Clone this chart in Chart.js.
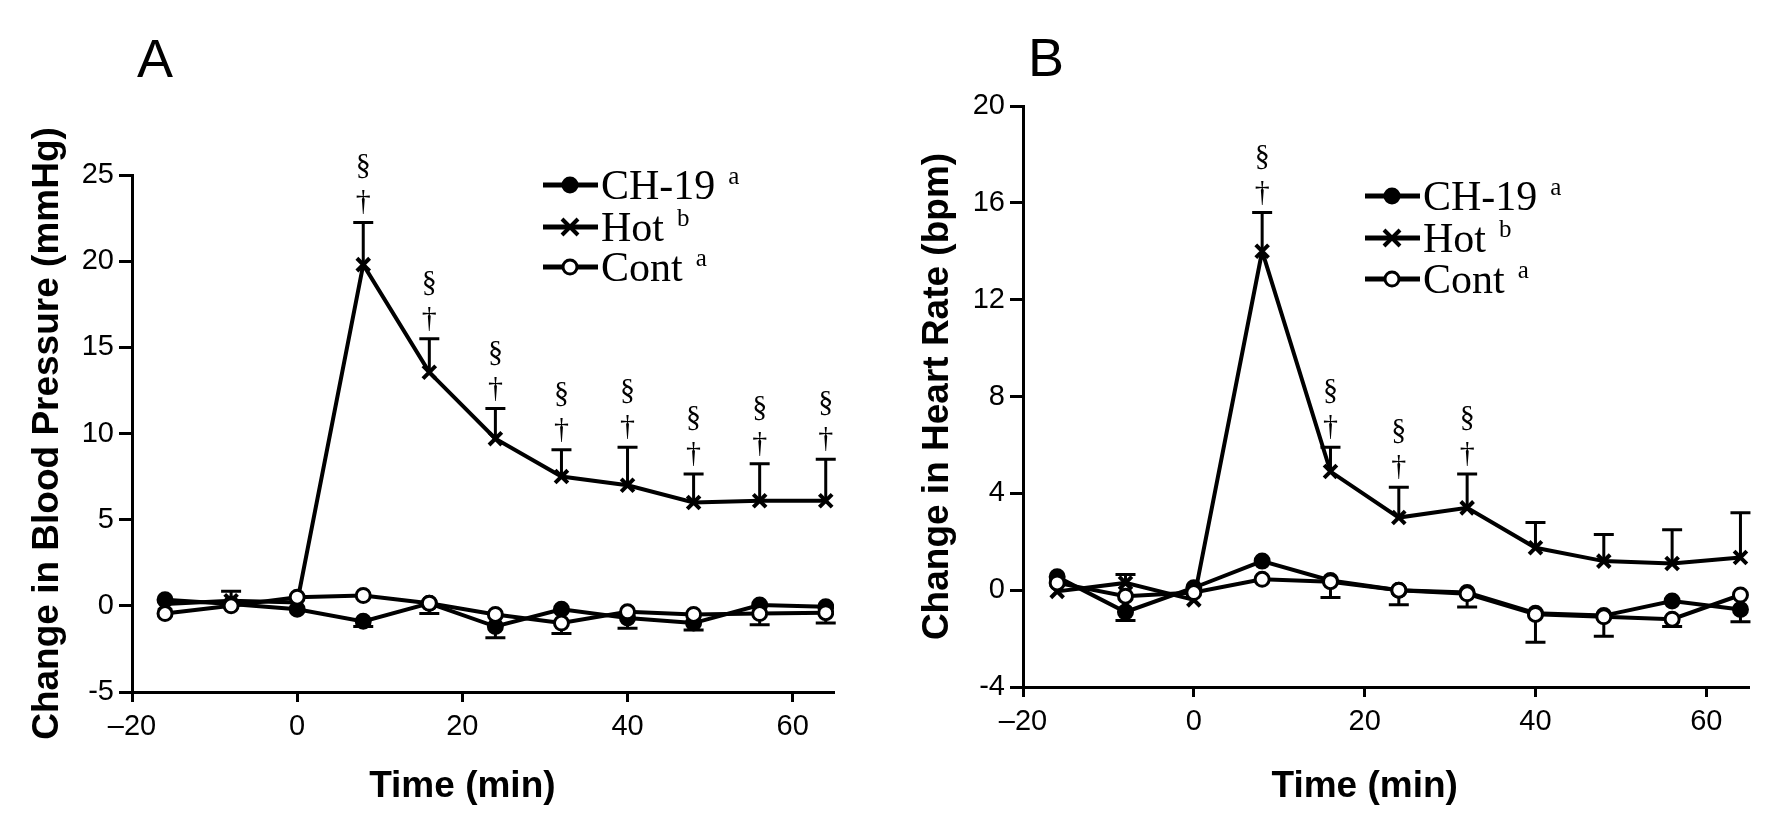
<!DOCTYPE html>
<html lang="en">
<head>
  <meta charset="UTF-8">
  <title>Change in Blood Pressure and Heart Rate</title>
  <script src="https://cdn.jsdelivr.net/npm/chart.js"></script>
  <style>
    body { margin: 0; background: #fff; }
    .panel { position: absolute; top: 0; height: 837px; }
    #panelA { left: 0; width: 888px; }
    #panelB { left: 888px; width: 889px; }
  </style>
</head>
<body>
  <div class="panel" id="panelA"><canvas id="chartA"></canvas></div>
  <div class="panel" id="panelB"><canvas id="chartB"></canvas></div>

  <script>
    // shared
    const times = [-16, -8, 0, 8, 16, 24, 32, 40, 48, 56, 64];
    const xTicks = [-20, 0, 20, 40, 60];
    const seriesNames = ['CH-19', 'Hot', 'Cont'];
    const seriesSup = ['a', 'b', 'a'];

    // A: blood pressure (mmHg)
    const bpTicks = [-5, 0, 5, 10, 15, 20, 25];
    const bpCH19 = [0.35, 0.1, -0.2, -0.9, 0.15, -1.2, -0.2, -0.7, -1.0, 0.05, -0.05];
    const bpHot  = [0.1, 0.3, 0.2, 19.8, 13.55, 9.7, 7.5, 7.0, 6.0, 6.1, 6.1];
    const bpCont = [-0.45, 0.0, 0.5, 0.6, 0.15, -0.5, -1.0, -0.35, -0.5, -0.45, -0.4];
    const bpHotErr  = [0, 0.55, 0, 2.45, 1.95, 1.75, 1.55, 2.2, 1.65, 2.15, 2.4];
    const bpCH19Err = [0, 0, 0, 0.3, 0.6, 0.65, 0, 0.6, 0.4, 0, 0];
    const bpContErr = [0, 0, 0, 0, 0, 0, 0.6, 0, 0, 0.65, 0.6];
    const bpSig = [8, 16, 24, 32, 40, 48, 56, 64];

    // B: heart rate (bpm)
    const hrTicks = [-4, 0, 4, 8, 12, 16, 20];
    const hrCH19 = [0.55, -0.9, 0.1, 1.2, 0.4, 0.0, -0.1, -0.95, -1.05, -0.45, -0.8];
    const hrHot  = [-0.05, 0.3, -0.4, 14.0, 4.9, 3.0, 3.4, 1.75, 1.2, 1.1, 1.35];
    const hrCont = [0.3, -0.25, -0.1, 0.45, 0.35, 0.0, -0.15, -1.0, -1.1, -1.2, -0.2];
    const hrHotErr  = [0, 0.35, 0, 1.6, 1.0, 1.25, 1.4, 1.05, 1.1, 1.4, 1.85];
    const hrCH19Err = [0, 0.35, 0, 0, 0.7, 0.6, 0.6, 0, 0, 0, 0.5];
    const hrContErr = [0, 0, 0, 0, 0, 0, 0, 1.15, 0.8, 0.3, 0];
    const hrSig = [8, 16, 24, 32];

    const pts = vals => times.map((t, i) => ({ x: t, y: vals[i] }));

    // error bars: hot goes up, the other two go down
    const errorBars = {
      id: 'errorBars',
      beforeDatasetsDraw(chart, args, opts) {
        const { ctx, scales: { x, y } } = chart;
        ctx.save();
        ctx.strokeStyle = '#000';
        ctx.lineWidth = 3;
        opts.sets.forEach(({ vals, err, dir }) => {
          times.forEach((t, i) => {
            if (!err[i]) return;
            const px = x.getPixelForValue(t);
            const y0 = y.getPixelForValue(vals[i]);
            const y1 = y.getPixelForValue(vals[i] + dir * err[i]);
            ctx.beginPath();
            ctx.moveTo(px, y0); ctx.lineTo(px, y1);
            ctx.moveTo(px - 10, y1); ctx.lineTo(px + 10, y1);
            ctx.stroke();
          });
        });
        ctx.restore();
      }
    };

    function drawMarker(ctx, style, cx, cy) {
      ctx.beginPath();
      if (style === 'hot') {
        ctx.lineWidth = 4;
        ctx.moveTo(cx - 8, cy - 8); ctx.lineTo(cx + 8, cy + 8);
        ctx.moveTo(cx + 8, cy - 8); ctx.lineTo(cx - 8, cy + 8);
        ctx.stroke();
      } else {
        ctx.arc(cx, cy, 7, 0, Math.PI * 2);
        ctx.fillStyle = style === 'open' ? '#fff' : '#000';
        ctx.fill();
        ctx.lineWidth = 3;
        ctx.stroke();
      }
    }

    // panel letter, legend, x title and significance marks
    const decor = {
      id: 'decor',
      afterDraw(chart, args, o) {
        const { ctx, scales: { x, y } } = chart;
        ctx.save();
        ctx.fillStyle = '#000';
        ctx.strokeStyle = '#000';

        ctx.font = '54px "Liberation Sans", Arial, sans-serif';
        ctx.textAlign = 'left';
        ctx.textBaseline = 'alphabetic';
        ctx.fillText(o.letter, o.letterX, o.letterY);

        ctx.font = 'bold 37px "Liberation Sans", Arial, sans-serif';
        ctx.textAlign = 'center';
        ctx.fillText('Time (min)', x.getPixelForValue(20), 797);

        // significance: dagger and section sign above the Hot caps
        ctx.font = '30px "Liberation Serif", "Times New Roman", serif';
        o.sig.forEach(t => {
          const i = times.indexOf(t);
          const px = x.getPixelForValue(t);
          const cap = y.getPixelForValue(o.hot[i] + o.hotErr[i]);
          ctx.fillText('\u2020', px, cap - 12);
          ctx.fillText('\u00a7', px, cap - 48);
        });

        // legend
        const styles = ['filled', 'hot', 'open'];
        seriesNames.forEach((name, k) => {
          const base = o.legY[k];
          const cy = base - 14;
          ctx.lineWidth = 5;
          ctx.beginPath();
          ctx.moveTo(o.legX, cy); ctx.lineTo(o.legX + 55, cy);
          ctx.stroke();
          drawMarker(ctx, styles[k], o.legX + 27, cy);
          ctx.fillStyle = '#000';
          ctx.textAlign = 'left';
          ctx.font = '42px "Liberation Serif", "Times New Roman", serif';
          ctx.fillText(name, o.legX + 58, base);
          const w = ctx.measureText(name).width;
          ctx.font = '25px "Liberation Serif", "Times New Roman", serif';
          ctx.fillText(seriesSup[k], o.legX + 58 + w + 13, base - 15);
        });
        ctx.restore();
      }
    };

    function buildChart(id, cfg) {
      const line = (vals, style, order) => ({
        data: pts(vals),
        order: order,
        borderColor: '#000',
        borderWidth: 4,
        pointStyle: style === 'hot' ? 'crossRot' : 'circle',
        pointRadius: style === 'hot' ? 9 : 7,
        pointBorderWidth: style === 'hot' ? 4 : 3,
        pointBorderColor: '#000',
        pointBackgroundColor: style === 'open' ? '#fff' : '#000',
        tension: 0
      });
      const tickFont = { family: '"Liberation Sans", Arial, sans-serif', size: 29 };
      return new Chart(document.getElementById(id), {
        type: 'line',
        data: {
          datasets: [
            line(cfg.ch19, 'filled', 1),
            line(cfg.hot, 'hot', 2),
            line(cfg.cont, 'open', 0)
          ]
        },
        options: {
          responsive: true,
          maintainAspectRatio: false,
          animation: false,
          layout: { padding: cfg.pad },
          plugins: {
            legend: { display: false },
            tooltip: { enabled: false },
            errorBars: {
              sets: [
                { vals: cfg.hot, err: cfg.hotErr, dir: 1 },
                { vals: cfg.ch19, err: cfg.ch19Err, dir: -1 },
                { vals: cfg.cont, err: cfg.contErr, dir: -1 }
              ]
            },
            decor: cfg.decor
          },
          scales: {
            x: {
              type: 'linear',
              min: -20,
              max: 65,
              afterBuildTicks: s => { s.ticks = xTicks.map(v => ({ value: v })); },
              afterFit: s => { s.height = 100; },
              grid: { drawOnChartArea: false, tickLength: 10, tickWidth: 3, tickColor: '#000' },
              border: { color: '#000', width: 3 },
              ticks: {
                color: '#000', font: tickFont, padding: 8, maxRotation: 0,
                callback: v => v < 0 ? '\u2013' + Math.abs(v) : String(v)
              }
            },
            y: {
              min: cfg.yTicks[0],
              max: cfg.yTicks[cfg.yTicks.length - 1],
              afterBuildTicks: s => { s.ticks = cfg.yTicks.map(v => ({ value: v })); },
              afterFit: s => { s.width = cfg.yW; },
              grid: { drawOnChartArea: false, tickLength: 13, tickWidth: 3, tickColor: '#000' },
              border: { color: '#000', width: 3 },
              ticks: { color: '#000', font: tickFont, padding: 5 },
              title: {
                display: true,
                text: cfg.yTitle,
                color: '#000',
                font: { family: '"Liberation Sans", Arial, sans-serif', size: 37, weight: 'bold' },
                padding: { top: cfg.titlePad }
              }
            }
          }
        },
        plugins: [errorBars, decor]
      });
    }

    buildChart('chartA', {
      ch19: bpCH19, hot: bpHot, cont: bpCont,
      hotErr: bpHotErr, ch19Err: bpCH19Err, contErr: bpContErr,
      yTicks: bpTicks, yTitle: 'Change in Blood Pressure (mmHg)',
      yW: 132, titlePad: 26,
      pad: { top: 175, right: 54, bottom: 45, left: 0 },
      decor: { letter: 'A', letterX: 137, letterY: 77, legX: 543, legY: [199, 241, 281],
               sig: bpSig, hot: bpHot, hotErr: bpHotErr }
    });

    buildChart('chartB', {
      ch19: hrCH19, hot: hrHot, cont: hrCont,
      hotErr: hrHotErr, ch19Err: hrCH19Err, contErr: hrContErr,
      yTicks: hrTicks, yTitle: 'Change in Heart Rate (bpm)',
      yW: 135, titlePad: 28,
      pad: { top: 106, right: 28, bottom: 50, left: 0 },
      decor: { letter: 'B', letterX: 140, letterY: 76, legX: 477, legY: [210, 252, 293],
               sig: hrSig, hot: hrHot, hotErr: hrHotErr }
    });
  </script>
</body>
</html>
